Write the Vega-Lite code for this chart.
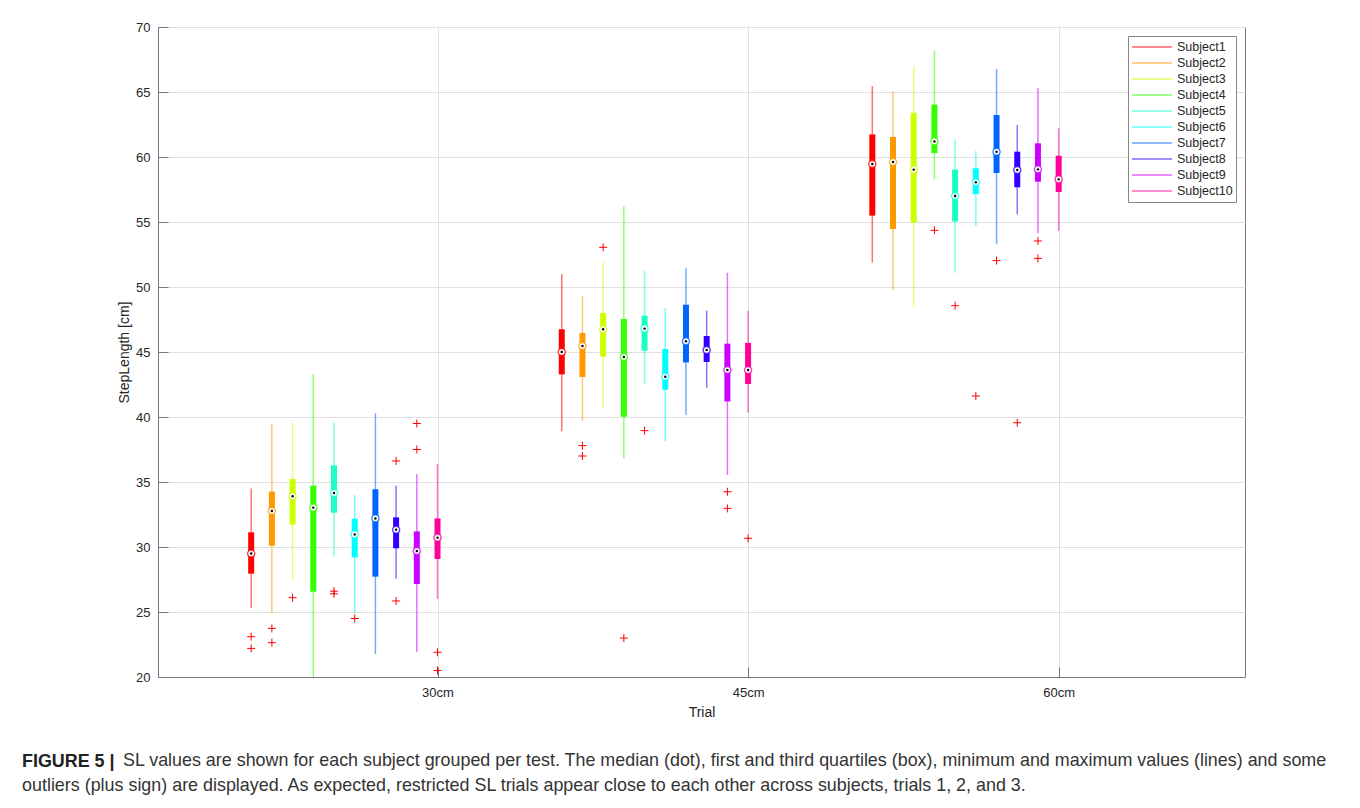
{
  "$schema": "https://vega.github.io/schema/vega-lite/v6.json",
  "padding": {"left": 22, "top": 20, "right": 10, "bottom": 10},
  "background": "white",
  "title": {"text": "FIGURE 5 |", "orient": "bottom", "anchor": "start", "fontWeight": "bold", "fontSize": 17.9, "font": "Liberation Sans", "color": "#222222", "dy": -42, "offset": 0},
  "config": {
    "view": {"stroke": "#777777", "strokeWidth": 1},
    "font": "Liberation Sans",
    "axis": {"labelFont": "Liberation Sans", "labelFontSize": 13, "labelColor": "#262626", "titleFont": "Liberation Sans", "titleFontSize": 14, "titleFontWeight": "normal", "titleColor": "#262626", "domainColor": "#777777", "tickColor": "#777777", "gridColor": "#e0e0e0", "tickSize": -10}
  },
  "datasets": {
    "boxes": [
      {"trial": "30cm", "t": 1, "subject": "Subject1", "s": 1, "lo": 25.3, "q1": 27.95, "med": 29.5, "q3": 31.13, "hi": 34.5},
      {"trial": "30cm", "t": 1, "subject": "Subject2", "s": 2, "lo": 24.9, "q1": 30.1, "med": 32.77, "q3": 34.26, "hi": 39.46},
      {"trial": "30cm", "t": 1, "subject": "Subject3", "s": 3, "lo": 27.46, "q1": 31.72, "med": 33.9, "q3": 35.23, "hi": 39.57},
      {"trial": "30cm", "t": 1, "subject": "Subject4", "s": 4, "lo": 20.0, "q1": 26.56, "med": 33.03, "q3": 34.72, "hi": 43.3},
      {"trial": "30cm", "t": 1, "subject": "Subject5", "s": 5, "lo": 29.26, "q1": 32.64, "med": 34.15, "q3": 36.28, "hi": 39.57},
      {"trial": "30cm", "t": 1, "subject": "Subject6", "s": 6, "lo": 24.9, "q1": 29.2, "med": 30.97, "q3": 32.18, "hi": 34.0},
      {"trial": "30cm", "t": 1, "subject": "Subject7", "s": 7, "lo": 21.77, "q1": 27.72, "med": 32.2, "q3": 34.44, "hi": 40.28},
      {"trial": "30cm", "t": 1, "subject": "Subject8", "s": 8, "lo": 27.56, "q1": 29.9, "med": 31.33, "q3": 32.28, "hi": 34.72},
      {"trial": "30cm", "t": 1, "subject": "Subject9", "s": 9, "lo": 21.9, "q1": 27.15, "med": 29.69, "q3": 31.2, "hi": 35.6},
      {"trial": "30cm", "t": 1, "subject": "Subject10", "s": 10, "lo": 26.0, "q1": 29.08, "med": 30.72, "q3": 32.2, "hi": 36.38},
      {"trial": "45cm", "t": 2, "subject": "Subject1", "s": 1, "lo": 38.9, "q1": 43.28, "med": 45.0, "q3": 46.75, "hi": 51.0},
      {"trial": "45cm", "t": 2, "subject": "Subject2", "s": 2, "lo": 39.7, "q1": 43.08, "med": 45.46, "q3": 46.46, "hi": 49.3},
      {"trial": "45cm", "t": 2, "subject": "Subject3", "s": 3, "lo": 40.64, "q1": 44.64, "med": 46.75, "q3": 48.0, "hi": 51.9},
      {"trial": "45cm", "t": 2, "subject": "Subject4", "s": 4, "lo": 36.8, "q1": 40.02, "med": 44.62, "q3": 47.54, "hi": 56.2},
      {"trial": "45cm", "t": 2, "subject": "Subject5", "s": 5, "lo": 42.54, "q1": 45.1, "med": 46.8, "q3": 47.8, "hi": 51.26},
      {"trial": "45cm", "t": 2, "subject": "Subject6", "s": 6, "lo": 38.15, "q1": 42.1, "med": 43.1, "q3": 45.23, "hi": 48.4},
      {"trial": "45cm", "t": 2, "subject": "Subject7", "s": 7, "lo": 40.15, "q1": 44.2, "med": 45.82, "q3": 48.64, "hi": 51.44},
      {"trial": "45cm", "t": 2, "subject": "Subject8", "s": 8, "lo": 42.25, "q1": 44.23, "med": 45.15, "q3": 46.23, "hi": 48.18},
      {"trial": "45cm", "t": 2, "subject": "Subject9", "s": 9, "lo": 35.54, "q1": 41.2, "med": 43.62, "q3": 45.64, "hi": 51.1},
      {"trial": "45cm", "t": 2, "subject": "Subject10", "s": 10, "lo": 40.33, "q1": 42.54, "med": 43.62, "q3": 45.7, "hi": 48.18},
      {"trial": "60cm", "t": 3, "subject": "Subject1", "s": 1, "lo": 51.87, "q1": 55.49, "med": 59.46, "q3": 61.74, "hi": 65.46},
      {"trial": "60cm", "t": 3, "subject": "Subject2", "s": 2, "lo": 49.77, "q1": 54.46, "med": 59.62, "q3": 61.54, "hi": 65.08},
      {"trial": "60cm", "t": 3, "subject": "Subject3", "s": 3, "lo": 48.49, "q1": 54.95, "med": 59.03, "q3": 63.4, "hi": 66.95},
      {"trial": "60cm", "t": 3, "subject": "Subject4", "s": 4, "lo": 58.28, "q1": 60.3, "med": 61.2, "q3": 64.03, "hi": 68.23},
      {"trial": "60cm", "t": 3, "subject": "Subject5", "s": 5, "lo": 51.1, "q1": 55.03, "med": 57.0, "q3": 59.03, "hi": 61.36},
      {"trial": "60cm", "t": 3, "subject": "Subject6", "s": 6, "lo": 54.69, "q1": 57.15, "med": 58.05, "q3": 59.13, "hi": 60.46},
      {"trial": "60cm", "t": 3, "subject": "Subject7", "s": 7, "lo": 53.3, "q1": 58.77, "med": 60.41, "q3": 63.23, "hi": 66.77},
      {"trial": "60cm", "t": 3, "subject": "Subject8", "s": 8, "lo": 55.59, "q1": 57.67, "med": 59.0, "q3": 60.41, "hi": 62.46},
      {"trial": "60cm", "t": 3, "subject": "Subject9", "s": 9, "lo": 54.13, "q1": 58.1, "med": 59.05, "q3": 61.05, "hi": 65.28},
      {"trial": "60cm", "t": 3, "subject": "Subject10", "s": 10, "lo": 54.33, "q1": 57.31, "med": 58.28, "q3": 60.1, "hi": 62.2}
    ],
    "outliers": [
      {"trial": "30cm", "t": 1, "subject": "Subject1", "s": 1, "v": 23.1},
      {"trial": "30cm", "t": 1, "subject": "Subject1", "s": 1, "v": 22.2},
      {"trial": "30cm", "t": 1, "subject": "Subject2", "s": 2, "v": 23.74},
      {"trial": "30cm", "t": 1, "subject": "Subject2", "s": 2, "v": 22.64},
      {"trial": "30cm", "t": 1, "subject": "Subject3", "s": 3, "v": 26.1},
      {"trial": "30cm", "t": 1, "subject": "Subject5", "s": 5, "v": 26.6},
      {"trial": "30cm", "t": 1, "subject": "Subject5", "s": 5, "v": 26.4},
      {"trial": "30cm", "t": 1, "subject": "Subject6", "s": 6, "v": 24.5},
      {"trial": "30cm", "t": 1, "subject": "Subject8", "s": 8, "v": 36.62},
      {"trial": "30cm", "t": 1, "subject": "Subject8", "s": 8, "v": 25.85},
      {"trial": "30cm", "t": 1, "subject": "Subject9", "s": 9, "v": 39.5},
      {"trial": "30cm", "t": 1, "subject": "Subject9", "s": 9, "v": 37.5},
      {"trial": "30cm", "t": 1, "subject": "Subject10", "s": 10, "v": 21.9},
      {"trial": "30cm", "t": 1, "subject": "Subject10", "s": 10, "v": 20.5},
      {"trial": "45cm", "t": 2, "subject": "Subject2", "s": 2, "v": 37.8},
      {"trial": "45cm", "t": 2, "subject": "Subject2", "s": 2, "v": 37.0},
      {"trial": "45cm", "t": 2, "subject": "Subject3", "s": 3, "v": 53.05},
      {"trial": "45cm", "t": 2, "subject": "Subject4", "s": 4, "v": 23.0},
      {"trial": "45cm", "t": 2, "subject": "Subject5", "s": 5, "v": 38.95},
      {"trial": "45cm", "t": 2, "subject": "Subject9", "s": 9, "v": 34.25},
      {"trial": "45cm", "t": 2, "subject": "Subject9", "s": 9, "v": 32.97},
      {"trial": "45cm", "t": 2, "subject": "Subject10", "s": 10, "v": 30.67},
      {"trial": "60cm", "t": 3, "subject": "Subject4", "s": 4, "v": 54.36},
      {"trial": "60cm", "t": 3, "subject": "Subject5", "s": 5, "v": 48.56},
      {"trial": "60cm", "t": 3, "subject": "Subject6", "s": 6, "v": 41.62},
      {"trial": "60cm", "t": 3, "subject": "Subject7", "s": 7, "v": 52.03},
      {"trial": "60cm", "t": 3, "subject": "Subject8", "s": 8, "v": 39.56},
      {"trial": "60cm", "t": 3, "subject": "Subject9", "s": 9, "v": 53.54},
      {"trial": "60cm", "t": 3, "subject": "Subject9", "s": 9, "v": 52.2}
    ]
  },
  "vconcat": [
    {
      "title": {
        "text": "outliers (plus sign) are displayed. As expected, restricted SL trials appear close to each other across subjects, trials 1, 2, and 3.",
        "orient": "bottom", "anchor": "start", "dx": -95, "offset": 7,
        "fontSize": 17.9, "fontWeight": "normal", "color": "#333333", "font": "Liberation Sans"
      },
      "vconcat": [
        {
          "width": 1087,
          "height": 650,
          "title": {
            "text": "SL values are shown for each subject grouped per test. The median (dot), first and third quartiles (box), minimum and maximum values (lines) and some",
            "orient": "bottom", "anchor": "start", "frame": "group", "dx": -35, "offset": 33,
            "fontSize": 17.9, "fontWeight": "normal", "color": "#333333", "font": "Liberation Sans"
          },
          "encoding": {
            "x": {"field": "pos", "type": "quantitative", "scale": {"domain": [0.1, 3.6], "nice": false, "zero": false},
                  "axis": {"title": "Trial", "values": [1, 2, 3], "labelExpr": "datum.value == 1 ? '30cm' : datum.value == 2 ? '45cm' : '60cm'", "labelPadding": 19, "titlePadding": 6, "grid": true}}
          },
          "layer": [
            {
              "data": {"name": "boxes"},
              "transform": [{"calculate": "datum.t + (datum.s - 10) / 15", "as": "pos"}],
              "mark": {"type": "rule", "strokeWidth": 1.5, "opacity": 0.55},
              "encoding": {
                "y": {"field": "lo", "type": "quantitative", "scale": {"domain": [20, 70], "nice": false, "zero": false},
                      "axis": {"title": "StepLength [cm]", "values": [20, 25, 30, 35, 40, 45, 50, 55, 60, 65, 70], "labelPadding": 18, "titlePadding": 4, "grid": true}},
                "y2": {"field": "hi"},
                "color": {"field": "subject", "type": "nominal",
                          "scale": {"domain": ["Subject1", "Subject2", "Subject3", "Subject4", "Subject5", "Subject6", "Subject7", "Subject8", "Subject9", "Subject10"],
                                    "range": ["#ff0000", "#ff9900", "#ccff00", "#33ff00", "#1affc8", "#00ffff", "#0066ff", "#3300ff", "#cc00ff", "#ff0099"]},
                          "legend": {"title": null, "orient": "top-right", "offset": 9, "symbolType": "stroke", "symbolSize": 1600, "symbolStrokeWidth": 1.5, "symbolOpacity": 0.6, "clipHeight": 16, "rowPadding": 0, "labelFontSize": 12.5, "labelFont": "Liberation Sans", "labelColor": "#262626", "strokeColor": "#888888", "fillColor": "white", "padding": 3, "labelOffset": 4}}
              }
            },
            {
              "data": {"name": "boxes"},
              "transform": [{"calculate": "datum.t + (datum.s - 10) / 15", "as": "pos"}],
              "mark": {"type": "rule", "strokeWidth": 6, "strokeCap": "butt"},
              "encoding": {
                "y": {"field": "q1", "type": "quantitative"},
                "y2": {"field": "q3"},
                "color": {"field": "subject", "type": "nominal"}
              }
            },
            {
              "data": {"name": "boxes"},
              "transform": [{"calculate": "datum.t + (datum.s - 10) / 15", "as": "pos"}],
              "mark": {"type": "point", "shape": "circle", "filled": false, "fill": "white", "fillOpacity": 1, "size": 50, "strokeWidth": 1.5, "strokeOpacity": 0.75},
              "encoding": {
                "y": {"field": "med", "type": "quantitative"},
                "stroke": {"field": "subject", "type": "nominal", "legend": null,
                           "scale": {"domain": ["Subject1", "Subject2", "Subject3", "Subject4", "Subject5", "Subject6", "Subject7", "Subject8", "Subject9", "Subject10"],
                                     "range": ["#ff0000", "#ff9900", "#ccff00", "#33ff00", "#1affc8", "#00ffff", "#0066ff", "#3300ff", "#cc00ff", "#ff0099"]}}
              }
            },
            {
              "data": {"name": "boxes"},
              "transform": [{"calculate": "datum.t + (datum.s - 10) / 15", "as": "pos"}],
              "mark": {"type": "point", "shape": "circle", "filled": true, "color": "black", "opacity": 1, "size": 6},
              "encoding": {
                "y": {"field": "med", "type": "quantitative"}
              }
            },
            {
              "data": {"name": "outliers"},
              "transform": [{"calculate": "datum.t + (datum.s - 10) / 15", "as": "pos"}],
              "mark": {"type": "point", "shape": "M-1,0H1M0,-1V1", "filled": false, "stroke": "#ff0000", "strokeWidth": 1, "opacity": 1, "size": 64},
              "encoding": {
                "y": {"field": "v", "type": "quantitative"}
              }
            }
          ]
        }
      ]
    }
  ]
}
